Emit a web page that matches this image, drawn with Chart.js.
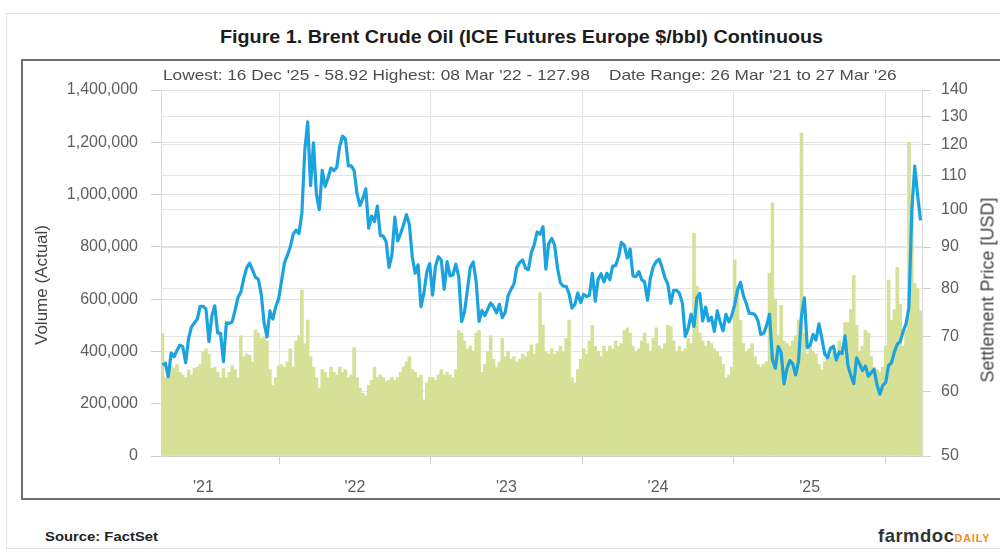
<!DOCTYPE html>
<html>
<head>
<meta charset="utf-8">
<title>Brent Crude Oil</title>
<script src="https://cdn.jsdelivr.net/npm/chart.js@4.4.1/dist/chart.umd.min.js"></script>
<style>
  html, body { margin: 0; padding: 0; background: #fff; }
  body { width: 1000px; height: 553px; overflow: hidden; position: relative; font-family: "Liberation Sans", Arial, sans-serif; }
  #frame { position: absolute; left: 6px; top: 13px; width: 1100px; height: 534px; border: 1px solid #e3e3e3; }
  .fit { position: absolute; white-space: nowrap; display: inline-block; transform-origin: left center; }
  #title { left: 220px; top: 27px; font-size: 18px; font-weight: bold; color: #1c1c1c; }
  #box { position: absolute; left: 21px; top: 59px; width: 1000px; height: 437px; border: 2px solid #6e6e6e; }
  #subtitle { left: 163px; top: 66px; font-size: 15px; color: #4d4d4d; }
  #wrap { position: absolute; left: 23px; top: 61px; width: 990px; height: 436px; }
  .axis-title { position: absolute; white-space: nowrap; color: #444; transform: translate(-50%, -50%) rotate(-90deg); }
  #yLeftTitle { left: 42px; top: 285px; font-size: 17px; }
  #yRightTitle { left: 988px; top: 290px; font-size: 18px; }
  #source { left: 45px; top: 529px; font-size: 13px; font-weight: bold; color: #222; }
  #logo { left: 878px; top: 525px; font-weight: bold; }
  #logo .farm { font-size: 19px; color: #333; letter-spacing: 0.5px; }
  #logo .daily { font-size: 11px; color: #f08a24; letter-spacing: 1px; }
</style>
</head>
<body>
<div id="frame"></div>
<div id="title" class="fit">Figure 1. Brent Crude Oil (ICE Futures Europe $/bbl) Continuous</div>
<div id="box"></div>
<div id="wrap"><canvas id="oilChart" width="990" height="436"></canvas></div>
<div id="subtitle" class="fit">Lowest: 16 Dec '25 - 58.92 Highest: 08 Mar '22 - 127.98&nbsp;&nbsp;&nbsp;&nbsp;Date Range: 26 Mar '21 to 27 Mar '26</div>
<div id="yLeftTitle" class="axis-title">Volume (Actual)</div>
<div id="yRightTitle" class="axis-title">Settlement Price [USD]</div>
<div id="source" class="fit">Source: FactSet</div>
<div id="logo" class="fit"><span class="farm">farmdoc</span><span class="daily">DAILY</span></div>

<script>
// weekly samples starting 26 Mar '21
const START_YEAR = 2021.23;
const WEEK = 7 / 365.25;

// settlement price, USD/bbl (weekly)
const priceUSD = [
  64.6, 64.9, 62.5, 66.8, 66.1, 67.3, 68.3, 68.0, 65.0, 69.6,
  71.9, 72.7, 73.5, 76.2, 76.2, 75.6, 69.0, 74.1, 76.3, 70.7,
  70.6, 65.2, 72.7, 72.6, 72.9, 75.3, 78.1, 79.3, 82.4, 84.9,
  86.0, 84.4, 82.7, 82.2, 78.9, 72.7, 69.9, 75.2, 73.5, 76.1,
  77.8, 81.8, 86.1, 87.9, 90.0, 93.3, 94.4, 93.5, 99.0, 118.1,
  127.98, 107.0, 120.7, 104.4, 100.0, 111.7, 106.7, 109.3, 112.4, 111.6,
  112.6, 119.4, 123.0, 122.0, 113.1, 113.1, 111.6, 104.5, 101.2, 103.2,
  106.0, 94.9, 98.2, 96.7, 101.0, 93.0, 92.8, 91.4, 85.0, 88.0,
  97.9, 91.6, 93.5, 95.8, 98.6, 96.0, 87.6, 83.6, 85.6, 76.1,
  79.0, 83.9, 85.9, 78.6, 85.3, 87.6, 86.7, 79.9, 86.4, 83.0,
  83.2, 85.8, 82.8, 73.0, 75.0, 79.8, 85.1, 86.3, 81.7, 73.0,
  75.3, 74.2, 75.6, 76.9, 76.1, 74.8, 76.6, 73.8, 74.9, 78.5,
  79.9, 81.1, 85.0, 86.2, 86.8, 84.8, 84.5, 88.6, 90.6, 93.9,
  93.3, 95.3, 84.6, 90.9, 92.2, 90.5, 84.9, 81.4, 80.6, 80.6,
  78.9, 75.8, 76.6, 79.1, 77.0, 78.8, 78.3, 78.6, 83.6, 77.3,
  82.2, 83.5, 81.6, 83.6, 82.1, 85.3, 85.4, 87.5, 91.2, 90.5,
  87.3, 89.5, 83.0, 82.8, 84.0, 82.1, 81.6, 77.5, 82.6, 85.2,
  86.4, 87.0, 85.0, 82.6, 81.1, 76.8, 79.7, 79.7, 79.0, 76.9,
  70.0, 71.6, 74.5, 72.0, 78.0, 79.0, 73.1, 76.0, 73.1, 73.9,
  71.0, 75.2, 72.9, 71.1, 74.5, 72.9, 74.2, 76.5, 79.8, 81.5,
  78.5, 76.8, 74.7, 74.7, 74.4, 73.2, 70.4, 70.6, 72.2, 74.5,
  65.6, 64.0, 68.0, 66.9, 61.3, 63.9, 65.4, 64.8, 62.8, 65.3,
  74.2, 78.0, 67.8, 68.3, 70.4, 69.3, 72.5, 69.7, 66.6, 65.9,
  67.7, 68.1, 65.5, 67.0, 66.7, 70.1, 64.5, 62.7, 61.3, 65.9,
  64.8, 63.6, 64.4, 62.6, 63.2, 63.8, 61.1, 59.5, 61.0, 61.5,
  64.5, 65.0, 67.0, 68.5, 69.0, 71.0, 72.5, 76.0, 100.0, 113.0,
  104.0, 97.0
];

// volume, thousands of contracts (weekly)
const volumeK = [
  470, 300, 330, 345, 335, 350, 320, 310, 300, 330,
  310, 335, 340, 350, 400, 410, 390, 335, 340, 320,
  300, 335, 300, 320, 345, 330, 300, 460, 380, 390,
  385, 360, 480, 470, 450, 455, 440, 330, 270, 300,
  345, 350, 340, 360, 410, 340, 440, 460, 635, 430,
  520, 380, 340, 300, 260, 330, 320, 300, 340, 320,
  310, 340, 320, 330, 300, 310, 415, 300, 260, 240,
  230, 270, 290, 340, 300, 310, 300, 285, 290, 300,
  290, 300, 320, 340, 360, 380, 330, 320, 300, 310,
  215, 280, 300, 300, 290, 310, 330, 310, 320, 310,
  300, 330, 480, 470, 440, 410, 420, 400, 470, 480,
  320, 350, 400, 460, 370, 340, 360, 450, 380, 400,
  370, 380, 360, 370, 390, 380, 400, 425, 390, 430,
  625, 500, 400, 390, 410, 390, 400, 420, 400, 450,
  520, 300, 280, 330, 370, 410, 390, 440, 500, 420,
  400, 380, 420, 400, 420, 410, 440, 420, 430, 480,
  490, 470, 420, 400, 410, 440, 470, 430, 400, 450,
  490, 420, 410, 430, 500, 495, 440, 400, 420, 400,
  410, 450, 430, 853, 650, 470, 440, 420, 440, 430,
  410, 400, 380, 350, 300, 310, 340, 750, 650, 520,
  430, 400, 410, 430, 380, 350, 340, 350, 360, 700,
  968, 600, 460, 577, 440, 430, 420, 440, 460, 520,
  1235, 470, 390, 420, 400, 390, 350, 330, 360, 390,
  380, 400, 390, 440, 420, 510, 510, 560, 690, 500,
  400, 420, 480, 470, 380, 340, 330, 320, 340, 420,
  673, 520, 560, 722, 580, 420, 480, 1200, 1000, 660,
  640, 555
];

const yearLabels = ["'21", "'22", "'23", "'24", "'25"];
const yearStarts = [2022, 2023, 2024, 2025, 2026];
const volumeTicks = [0, 200000, 400000, 600000, 800000, 1000000, 1200000, 1400000];
const priceTicks = [50, 60, 70, 80, 90, 100, 110, 120, 130, 140];

const weekX = i => START_YEAR + i * WEEK;
const priceData = priceUSD.map((p, i) => ({ x: weekX(i), y: p }));
const volData = volumeK.map((v, i) => ({ x: weekX(i), y: v * 1000 }));

// labels sit mid-year, grid lines at year starts
const yearMids = yearLabels.map((l, k) => 2021.5 + k);
const xTickValues = yearMids.concat(yearStarts).sort((a, b) => a - b);

const GRID = '#e4e4e4';
const TICKMARK = '#cfcfcf';
const TICKTEXT = '#5e5e5e';

Chart.defaults.font.family = '"Liberation Sans", Arial, sans-serif';

const ctx = document.getElementById('oilChart').getContext('2d');
const oilChart = new Chart(ctx, {
  type: 'bar',
  data: {
    datasets: [
      {
        type: 'line',
        label: 'Settlement Price',
        data: priceData,
        yAxisID: 'yP',
        borderColor: '#1ba3df',
        borderWidth: 3.2,
        borderJoinStyle: 'round',
        pointRadius: 0,
        tension: 0,
        order: 0
      },
      {
        type: 'bar',
        label: 'Volume',
        data: volData,
        yAxisID: 'yV',
        backgroundColor: '#d6e097',
        borderWidth: 0,
        barPercentage: 1,
        categoryPercentage: 1,
        order: 1
      }
    ]
  },
  options: {
    responsive: false,
    animation: false,
    layout: { padding: { top: 29, left: 0, right: 0, bottom: 0 } },
    plugins: { legend: { display: false }, tooltip: { enabled: false } },
    scales: {
      x: {
        type: 'linear',
        offset: false,
        min: START_YEAR - WEEK / 2,
        max: weekX(priceUSD.length - 1) + WEEK / 2,
        afterBuildTicks: s => { s.ticks = xTickValues.map(v => ({ value: v })); },
        afterFit: s => { s.height = 41; },
        grid: {
          offset: false,
          color: c => (c.tick && Number.isInteger(c.tick.value)) ? GRID : 'rgba(0,0,0,0)',
          tickColor: c => (c.tick && Number.isInteger(c.tick.value)) ? TICKMARK : 'rgba(0,0,0,0)',
          tickLength: 8
        },
        border: { color: '#d0d0d0' },
        ticks: {
          autoSkip: false,
          maxRotation: 0,
          padding: 14,
          color: TICKTEXT,
          font: { size: 16 },
          callback: v => {
            const k = yearMids.indexOf(v);
            return k >= 0 ? yearLabels[k] : '';
          }
        }
      },
      yV: {
        position: 'left',
        min: 0,
        max: 1400000,
        afterBuildTicks: s => { s.ticks = volumeTicks.map(v => ({ value: v })); },
        afterFit: s => { s.width = 138; },
        grid: { color: GRID, tickColor: TICKMARK, tickLength: 10 },
        border: { color: '#dcdcdc' },
        ticks: {
          padding: 13,
          color: TICKTEXT,
          font: { size: 16 },
          callback: v => v.toLocaleString('en-US')
        }
      },
      yP: {
        type: 'logarithmic',
        position: 'right',
        min: 50,
        max: 140,
        afterBuildTicks: s => { s.ticks = priceTicks.map(v => ({ value: v })); },
        afterFit: s => { s.width = 91; },
        grid: { color: GRID, tickColor: TICKMARK, tickLength: 9 },
        border: { color: '#dcdcdc' },
        ticks: {
          padding: 10,
          color: TICKTEXT,
          font: { size: 16 },
          callback: v => String(v)
        }
      }
    }
  }
});

// stretch the html captions to the widths they take in the original
function fitWidth(id, w) {
  const el = document.getElementById(id);
  el.style.transform = 'scaleX(' + (w / el.scrollWidth) + ')';
}
fitWidth('title', 603);
fitWidth('subtitle', 734);
fitWidth('source', 113);
fitWidth('logo', 112);
</script>
</body>
</html>
